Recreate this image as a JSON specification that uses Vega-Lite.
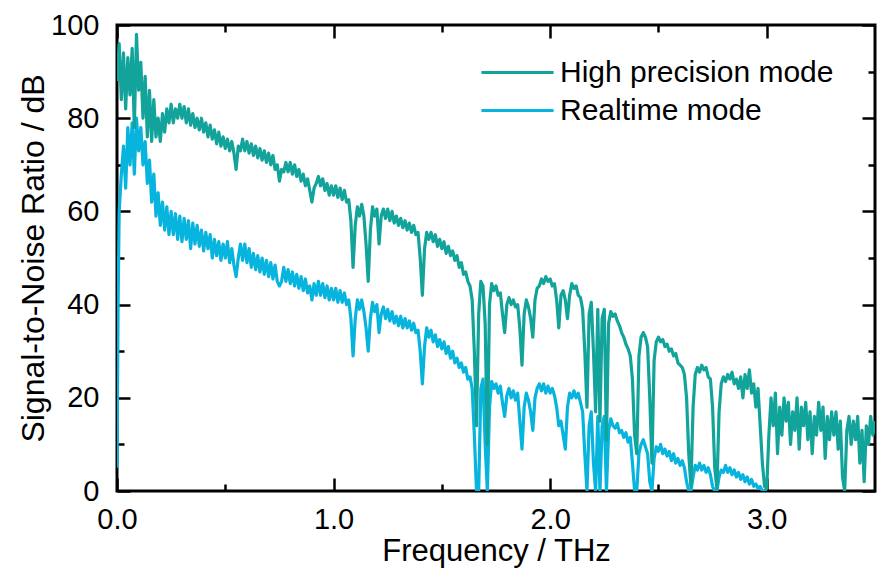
{
  "$schema": "https://vega.github.io/schema/vega-lite/v6.json",
  "width": 758,
  "height": 466,
  "autosize": {"type": "none"},
  "padding": {"left": 117, "top": 25, "right": 9, "bottom": 83},
  "background": "white",
  "config": {
    "view": {"stroke": "black", "strokeWidth": 3},
    "axis": {
      "domain": false, "grid": false, "tickColor": "black", "tickWidth": 2.5,
      "labelColor": "black", "labelFont": "Liberation Sans", "labelFontSize": 29,
      "titleFont": "Liberation Sans", "titleFontSize": 31, "titleFontWeight": "normal", "titleColor": "black"
    },
    "legend": {"labelFont": "Liberation Sans", "labelFontSize": 30, "labelColor": "black", "labelLimit": 0}
  },
  "datasets": {
    "hp": [
{"f":0,"v":88},{"f":0.01,"v":96},{"f":0.02,"v":84},{"f":0.03,"v":94},{"f":0.04,"v":82},{"f":0.05,"v":93},{"f":0.06,"v":85},{"f":0.07,"v":95},{"f":0.08,"v":78},{"f":0.09,"v":98},
{"f":0.1,"v":86},{"f":0.11,"v":92},{"f":0.12,"v":80},{"f":0.13,"v":89},{"f":0.14,"v":76},{"f":0.15,"v":86},{"f":0.16,"v":75},{"f":0.17,"v":84},{"f":0.18,"v":76},{"f":0.19,"v":80},
{"f":0.2,"v":75},{"f":0.21,"v":81},{"f":0.22,"v":77},{"f":0.23,"v":82},{"f":0.24,"v":79},{"f":0.25,"v":83},{"f":0.26,"v":79},{"f":0.27,"v":82},{"f":0.28,"v":80},{"f":0.29,"v":83},
{"f":0.3,"v":80},{"f":0.31,"v":82.5},{"f":0.32,"v":79},{"f":0.33,"v":82},{"f":0.34,"v":78.5},{"f":0.35,"v":81},{"f":0.36,"v":78},{"f":0.37,"v":80},{"f":0.38,"v":77.5},{"f":0.39,"v":80},
{"f":0.4,"v":77},{"f":0.41,"v":79},{"f":0.42,"v":76},{"f":0.43,"v":78.5},{"f":0.44,"v":75.5},{"f":0.45,"v":77.5},{"f":0.46,"v":74.5},{"f":0.47,"v":77},{"f":0.48,"v":74},{"f":0.49,"v":76},
{"f":0.5,"v":73.5},{"f":0.51,"v":75.5},{"f":0.52,"v":73},{"f":0.53,"v":75},{"f":0.54,"v":72.5},{"f":0.55,"v":69},{"f":0.56,"v":74},{"f":0.57,"v":73},{"f":0.58,"v":75.5},{"f":0.59,"v":73},
{"f":0.6,"v":75},{"f":0.61,"v":72.5},{"f":0.62,"v":74.5},{"f":0.63,"v":72},{"f":0.64,"v":74},{"f":0.65,"v":71.5},{"f":0.66,"v":73.5},{"f":0.67,"v":71},{"f":0.68,"v":73},{"f":0.69,"v":70.5},
{"f":0.7,"v":72.5},{"f":0.71,"v":70},{"f":0.72,"v":72},{"f":0.73,"v":69},{"f":0.74,"v":70},{"f":0.75,"v":66.5},{"f":0.76,"v":69},{"f":0.77,"v":68.5},{"f":0.78,"v":70.5},{"f":0.79,"v":68.5},
{"f":0.8,"v":70.5},{"f":0.81,"v":68},{"f":0.82,"v":70},{"f":0.83,"v":67.5},{"f":0.84,"v":69},{"f":0.85,"v":66.5},{"f":0.86,"v":68},{"f":0.87,"v":65.5},{"f":0.88,"v":67},{"f":0.89,"v":64.5},
{"f":0.9,"v":62},{"f":0.91,"v":65},{"f":0.92,"v":66},{"f":0.93,"v":67.5},{"f":0.94,"v":65.5},{"f":0.95,"v":67},{"f":0.96,"v":64.5},{"f":0.97,"v":66},{"f":0.98,"v":63.5},{"f":0.99,"v":65.5},
{"f":1,"v":63.5},{"f":1.01,"v":65.5},{"f":1.02,"v":63},{"f":1.03,"v":65},{"f":1.04,"v":62.5},{"f":1.05,"v":64.5},{"f":1.06,"v":62},{"f":1.07,"v":62.5},{"f":1.08,"v":58},{"f":1.09,"v":48},
{"f":1.1,"v":57},{"f":1.11,"v":61},{"f":1.12,"v":59},{"f":1.13,"v":61.5},{"f":1.14,"v":59},{"f":1.15,"v":53},{"f":1.16,"v":45},{"f":1.17,"v":56},{"f":1.18,"v":61},{"f":1.19,"v":59},
{"f":1.2,"v":60.5},{"f":1.21,"v":53},{"f":1.22,"v":59},{"f":1.23,"v":60.5},{"f":1.24,"v":58.5},{"f":1.25,"v":60.5},{"f":1.26,"v":58},{"f":1.27,"v":60},{"f":1.28,"v":57.5},{"f":1.29,"v":59},
{"f":1.3,"v":57},{"f":1.31,"v":58.5},{"f":1.32,"v":56.5},{"f":1.33,"v":58},{"f":1.34,"v":56},{"f":1.35,"v":57.5},{"f":1.36,"v":55.5},{"f":1.37,"v":57},{"f":1.38,"v":55},{"f":1.39,"v":55.5},
{"f":1.4,"v":50},{"f":1.41,"v":42},{"f":1.42,"v":52},{"f":1.43,"v":55.5},{"f":1.44,"v":54},{"f":1.45,"v":55.5},{"f":1.46,"v":53.5},{"f":1.47,"v":55},{"f":1.48,"v":52.5},{"f":1.49,"v":54},
{"f":1.5,"v":52},{"f":1.51,"v":53.5},{"f":1.52,"v":51},{"f":1.53,"v":52.5},{"f":1.54,"v":50.5},{"f":1.55,"v":51.5},{"f":1.56,"v":49.5},{"f":1.57,"v":50.5},{"f":1.58,"v":48},{"f":1.59,"v":49},
{"f":1.6,"v":46.5},{"f":1.61,"v":47},{"f":1.62,"v":45},{"f":1.63,"v":44},{"f":1.64,"v":41},{"f":1.65,"v":30},{"f":1.66,"v":14},{"f":1.67,"v":38},{"f":1.68,"v":45},{"f":1.69,"v":44},
{"f":1.7,"v":36},{"f":1.71,"v":10},{"f":1.72,"v":40},{"f":1.73,"v":44.5},{"f":1.74,"v":43},{"f":1.75,"v":44},{"f":1.76,"v":42},{"f":1.77,"v":42.5},{"f":1.78,"v":38},{"f":1.79,"v":34},
{"f":1.8,"v":40},{"f":1.81,"v":41.5},{"f":1.82,"v":40},{"f":1.83,"v":41},{"f":1.84,"v":39.5},{"f":1.85,"v":40},{"f":1.86,"v":35},{"f":1.87,"v":27},{"f":1.88,"v":38},{"f":1.89,"v":41},
{"f":1.9,"v":39.5},{"f":1.91,"v":37},{"f":1.92,"v":33},{"f":1.93,"v":41},{"f":1.94,"v":43.5},{"f":1.95,"v":44},{"f":1.96,"v":45.5},{"f":1.97,"v":44.5},{"f":1.98,"v":46},{"f":1.99,"v":45},
{"f":2,"v":45.5},{"f":2.01,"v":44},{"f":2.02,"v":44.5},{"f":2.03,"v":41},{"f":2.04,"v":35},{"f":2.05,"v":42},{"f":2.06,"v":43},{"f":2.07,"v":41},{"f":2.08,"v":37},{"f":2.09,"v":42},
{"f":2.1,"v":44.5},{"f":2.11,"v":43.5},{"f":2.12,"v":44},{"f":2.13,"v":42},{"f":2.14,"v":41.5},{"f":2.15,"v":39},{"f":2.16,"v":30},{"f":2.17,"v":18},{"f":2.18,"v":38},{"f":2.19,"v":40.5},
{"f":2.2,"v":30},{"f":2.21,"v":17},{"f":2.22,"v":39},{"f":2.23,"v":15},{"f":2.24,"v":37},{"f":2.25,"v":39},{"f":2.26,"v":11},{"f":2.27,"v":36},{"f":2.28,"v":38.5},{"f":2.29,"v":37.5},
{"f":2.3,"v":38},{"f":2.31,"v":36.5},{"f":2.32,"v":35.5},{"f":2.33,"v":34},{"f":2.34,"v":33},{"f":2.35,"v":31.5},{"f":2.36,"v":30.5},{"f":2.37,"v":29},{"f":2.38,"v":24},{"f":2.39,"v":12},
{"f":2.4,"v":8},{"f":2.41,"v":29},{"f":2.42,"v":33},{"f":2.43,"v":34},{"f":2.44,"v":33},{"f":2.45,"v":31},{"f":2.46,"v":20},{"f":2.47,"v":6},{"f":2.48,"v":28},{"f":2.49,"v":32},
{"f":2.5,"v":33},{"f":2.51,"v":32},{"f":2.52,"v":32.5},{"f":2.53,"v":31},{"f":2.54,"v":31.5},{"f":2.55,"v":30},{"f":2.56,"v":30.5},{"f":2.57,"v":29},{"f":2.58,"v":29.5},{"f":2.59,"v":27.5},
{"f":2.6,"v":27},{"f":2.61,"v":26.5},{"f":2.62,"v":25},{"f":2.63,"v":20},{"f":2.64,"v":8},{"f":2.65,"v":1},{"f":2.66,"v":18},{"f":2.67,"v":25},{"f":2.68,"v":26.5},{"f":2.69,"v":25.5},
{"f":2.7,"v":27},{"f":2.71,"v":26},{"f":2.72,"v":26.5},{"f":2.73,"v":24.5},{"f":2.74,"v":24},{"f":2.75,"v":18},{"f":2.76,"v":5},{"f":2.77,"v":0.5},{"f":2.78,"v":17},{"f":2.79,"v":23},
{"f":2.8,"v":24.5},{"f":2.81,"v":23.5},{"f":2.82,"v":25},{"f":2.83,"v":24},{"f":2.84,"v":25.5},{"f":2.85,"v":23},{"f":2.86,"v":24},{"f":2.87,"v":22},{"f":2.88,"v":24.5},{"f":2.89,"v":20},
{"f":2.9,"v":25},{"f":2.91,"v":22},{"f":2.92,"v":26},{"f":2.93,"v":21},{"f":2.94,"v":23},{"f":2.95,"v":18},{"f":2.96,"v":22},{"f":2.97,"v":14},{"f":2.98,"v":6},{"f":2.99,"v":1},
{"f":3,"v":0.5},{"f":3.01,"v":12},{"f":3.02,"v":20},{"f":3.03,"v":14},{"f":3.04,"v":21},{"f":3.05,"v":8},{"f":3.06,"v":18},{"f":3.07,"v":12},{"f":3.08,"v":20},{"f":3.09,"v":15},
{"f":3.1,"v":19},{"f":3.11,"v":10},{"f":3.12,"v":17},{"f":3.13,"v":13},{"f":3.14,"v":20},{"f":3.15,"v":9},{"f":3.16,"v":18},{"f":3.17,"v":14},{"f":3.18,"v":19},{"f":3.19,"v":11},
{"f":3.2,"v":17},{"f":3.21,"v":8},{"f":3.22,"v":16},{"f":3.23,"v":12},{"f":3.24,"v":19},{"f":3.25,"v":13},{"f":3.26,"v":18},{"f":3.27,"v":7},{"f":3.28,"v":16},{"f":3.29,"v":11},
{"f":3.3,"v":17},{"f":3.31,"v":12},{"f":3.32,"v":17},{"f":3.33,"v":9},{"f":3.34,"v":15},{"f":3.35,"v":3},{"f":3.36,"v":0},{"f":3.37,"v":13},{"f":3.38,"v":16},{"f":3.39,"v":10},
{"f":3.4,"v":15},{"f":3.41,"v":11},{"f":3.42,"v":16},{"f":3.43,"v":6},{"f":3.44,"v":13},{"f":3.45,"v":2},{"f":3.46,"v":14},{"f":3.47,"v":10},{"f":3.48,"v":16},{"f":3.49,"v":12},{"f":3.5,"v":15}
    ],
    "rt": [
{"f":0,"v":5},{"f":0.005,"v":40},{"f":0.01,"v":60},{"f":0.02,"v":68},{"f":0.03,"v":74},{"f":0.04,"v":65},{"f":0.05,"v":78},{"f":0.06,"v":70},{"f":0.07,"v":79},{"f":0.08,"v":68},{"f":0.09,"v":80},
{"f":0.1,"v":73},{"f":0.11,"v":78},{"f":0.12,"v":70},{"f":0.13,"v":75},{"f":0.14,"v":66},{"f":0.15,"v":71},{"f":0.16,"v":62},{"f":0.17,"v":68},{"f":0.18,"v":59},{"f":0.19,"v":64},
{"f":0.2,"v":57},{"f":0.21,"v":62},{"f":0.22,"v":56},{"f":0.23,"v":61},{"f":0.24,"v":55},{"f":0.25,"v":60},{"f":0.26,"v":55},{"f":0.27,"v":59.5},{"f":0.28,"v":54},{"f":0.29,"v":59},
{"f":0.3,"v":53.5},{"f":0.31,"v":58.5},{"f":0.32,"v":54},{"f":0.33,"v":58},{"f":0.34,"v":52},{"f":0.35,"v":57.5},{"f":0.36,"v":53},{"f":0.37,"v":57},{"f":0.38,"v":52.5},{"f":0.39,"v":56},
{"f":0.4,"v":51.5},{"f":0.41,"v":55.5},{"f":0.42,"v":52},{"f":0.43,"v":55},{"f":0.44,"v":50},{"f":0.45,"v":54},{"f":0.46,"v":50.5},{"f":0.47,"v":53.5},{"f":0.48,"v":49.5},{"f":0.49,"v":53},
{"f":0.5,"v":50},{"f":0.51,"v":53.5},{"f":0.52,"v":49},{"f":0.53,"v":52},{"f":0.54,"v":48.5},{"f":0.55,"v":46},{"f":0.56,"v":50},{"f":0.57,"v":53},{"f":0.58,"v":49.5},{"f":0.59,"v":53},
{"f":0.6,"v":49},{"f":0.61,"v":52},{"f":0.62,"v":48},{"f":0.63,"v":51},{"f":0.64,"v":47.5},{"f":0.65,"v":50.5},{"f":0.66,"v":47},{"f":0.67,"v":50},{"f":0.68,"v":46.5},{"f":0.69,"v":49.5},
{"f":0.7,"v":46},{"f":0.71,"v":49},{"f":0.72,"v":45.5},{"f":0.73,"v":48.5},{"f":0.74,"v":45},{"f":0.75,"v":44},{"f":0.76,"v":45},{"f":0.77,"v":48},{"f":0.78,"v":45},{"f":0.79,"v":47.5},
{"f":0.8,"v":44.5},{"f":0.81,"v":47},{"f":0.82,"v":44},{"f":0.83,"v":46.5},{"f":0.84,"v":43.5},{"f":0.85,"v":46},{"f":0.86,"v":43},{"f":0.87,"v":45.5},{"f":0.88,"v":42.5},{"f":0.89,"v":44},
{"f":0.9,"v":41},{"f":0.91,"v":44.5},{"f":0.92,"v":42},{"f":0.93,"v":45},{"f":0.94,"v":42},{"f":0.95,"v":44.5},{"f":0.96,"v":41.5},{"f":0.97,"v":44},{"f":0.98,"v":41},{"f":0.99,"v":43.5},
{"f":1,"v":41},{"f":1.01,"v":43.5},{"f":1.02,"v":40.5},{"f":1.03,"v":43},{"f":1.04,"v":40.5},{"f":1.05,"v":42.5},{"f":1.06,"v":40},{"f":1.07,"v":41},{"f":1.08,"v":37},{"f":1.09,"v":29},
{"f":1.1,"v":37},{"f":1.11,"v":41},{"f":1.12,"v":39},{"f":1.13,"v":41},{"f":1.14,"v":38.5},{"f":1.15,"v":35},{"f":1.16,"v":30},{"f":1.17,"v":37},{"f":1.18,"v":40.5},{"f":1.19,"v":38.5},
{"f":1.2,"v":40},{"f":1.21,"v":34},{"f":1.22,"v":38},{"f":1.23,"v":39.5},{"f":1.24,"v":37},{"f":1.25,"v":39},{"f":1.26,"v":36.5},{"f":1.27,"v":38.5},{"f":1.28,"v":36},{"f":1.29,"v":37.5},
{"f":1.3,"v":35.5},{"f":1.31,"v":37.5},{"f":1.32,"v":35},{"f":1.33,"v":37},{"f":1.34,"v":35},{"f":1.35,"v":36.5},{"f":1.36,"v":34.5},{"f":1.37,"v":36},{"f":1.38,"v":34},{"f":1.39,"v":34.5},
{"f":1.4,"v":30},{"f":1.41,"v":23},{"f":1.42,"v":31},{"f":1.43,"v":35},{"f":1.44,"v":33},{"f":1.45,"v":34.5},{"f":1.46,"v":32},{"f":1.47,"v":33.5},{"f":1.48,"v":31},{"f":1.49,"v":32.5},
{"f":1.5,"v":30.5},{"f":1.51,"v":32},{"f":1.52,"v":29.5},{"f":1.53,"v":31},{"f":1.54,"v":28.5},{"f":1.55,"v":30},{"f":1.56,"v":27.5},{"f":1.57,"v":28.5},{"f":1.58,"v":26.5},{"f":1.59,"v":27.5},
{"f":1.6,"v":25.5},{"f":1.61,"v":26.5},{"f":1.62,"v":24},{"f":1.63,"v":24.5},{"f":1.64,"v":22},{"f":1.65,"v":12},{"f":1.66,"v":0},{"f":1.67,"v":0},{"f":1.68,"v":22},{"f":1.69,"v":24},
{"f":1.7,"v":10},{"f":1.71,"v":0},{"f":1.72,"v":18},{"f":1.73,"v":23.5},{"f":1.74,"v":22},{"f":1.75,"v":23},{"f":1.76,"v":21},{"f":1.77,"v":22.5},{"f":1.78,"v":19},{"f":1.79,"v":16},
{"f":1.8,"v":20.5},{"f":1.81,"v":22},{"f":1.82,"v":20},{"f":1.83,"v":21.5},{"f":1.84,"v":19.5},{"f":1.85,"v":21},{"f":1.86,"v":15},{"f":1.87,"v":9},{"f":1.88,"v":18},{"f":1.89,"v":21},
{"f":1.9,"v":19.5},{"f":1.91,"v":17},{"f":1.92,"v":13},{"f":1.93,"v":20},{"f":1.94,"v":22},{"f":1.95,"v":23},{"f":1.96,"v":21.5},{"f":1.97,"v":23},{"f":1.98,"v":21},{"f":1.99,"v":22.5},
{"f":2,"v":21},{"f":2.01,"v":22},{"f":2.02,"v":20.5},{"f":2.03,"v":18},{"f":2.04,"v":14},{"f":2.05,"v":15},{"f":2.06,"v":12},{"f":2.07,"v":9},{"f":2.08,"v":18},{"f":2.09,"v":21},
{"f":2.1,"v":20},{"f":2.11,"v":21.5},{"f":2.12,"v":20},{"f":2.13,"v":21},{"f":2.14,"v":19},{"f":2.15,"v":17},{"f":2.16,"v":8},{"f":2.17,"v":0},{"f":2.18,"v":14},{"f":2.19,"v":17},
{"f":2.2,"v":6},{"f":2.21,"v":0},{"f":2.22,"v":16},{"f":2.23,"v":0},{"f":2.24,"v":14},{"f":2.25,"v":16},{"f":2.26,"v":0},{"f":2.27,"v":13},{"f":2.28,"v":15.5},{"f":2.29,"v":14},
{"f":2.3,"v":13.5},{"f":2.31,"v":14.5},{"f":2.32,"v":12.5},{"f":2.33,"v":13},{"f":2.34,"v":11.5},{"f":2.35,"v":12.5},{"f":2.36,"v":10.5},{"f":2.37,"v":11.5},{"f":2.38,"v":6},{"f":2.39,"v":0},
{"f":2.4,"v":0},{"f":2.41,"v":8},{"f":2.42,"v":10},{"f":2.43,"v":11},{"f":2.44,"v":9.5},{"f":2.45,"v":8},{"f":2.46,"v":2},{"f":2.47,"v":0},{"f":2.48,"v":7},{"f":2.49,"v":9.5},
{"f":2.5,"v":8.5},{"f":2.51,"v":10},{"f":2.52,"v":8},{"f":2.53,"v":9},{"f":2.54,"v":7.5},{"f":2.55,"v":8.5},{"f":2.56,"v":6.5},{"f":2.57,"v":8},{"f":2.58,"v":6},{"f":2.59,"v":7},
{"f":2.6,"v":5.5},{"f":2.61,"v":6.5},{"f":2.62,"v":5},{"f":2.63,"v":2},{"f":2.64,"v":0},{"f":2.65,"v":0},{"f":2.66,"v":3},{"f":2.67,"v":5.5},{"f":2.68,"v":4.5},{"f":2.69,"v":6},
{"f":2.7,"v":4.5},{"f":2.71,"v":5.5},{"f":2.72,"v":4},{"f":2.73,"v":5},{"f":2.74,"v":3.5},{"f":2.75,"v":1},{"f":2.76,"v":0},{"f":2.77,"v":0},{"f":2.78,"v":3},{"f":2.79,"v":4.5},
{"f":2.8,"v":4},{"f":2.81,"v":5.5},{"f":2.82,"v":4},{"f":2.83,"v":5},{"f":2.84,"v":3.5},{"f":2.85,"v":4.5},{"f":2.86,"v":3},{"f":2.87,"v":4},{"f":2.88,"v":2.5},{"f":2.89,"v":3.5},
{"f":2.9,"v":2},{"f":2.91,"v":3},{"f":2.92,"v":1.5},{"f":2.93,"v":2.5},{"f":2.94,"v":1},{"f":2.95,"v":1.5},{"f":2.96,"v":0.5},{"f":2.97,"v":1},{"f":2.98,"v":0},{"f":3,"v":0}
    ]
  },
  "resolve": {"scale": {"x": "shared", "y": "shared"}, "axis": {"x": "independent", "y": "independent"}},
  "layer": [
    {
      "data": {"name": "rt"},
      "mark": {"type": "line", "strokeWidth": 3.2, "clip": true, "strokeJoin": "round"},
      "encoding": {
        "x": {"field": "f", "type": "quantitative", "scale": {"domain": [0, 3.5], "nice": false, "zero": false},
              "axis": {"orient": "bottom", "values": [0, 1, 2, 3], "format": ".1f", "tickSize": -13, "labelPadding": 27, "title": "Frequency / THz", "titlePadding": 2, "labelFlush": false}},
        "y": {"field": "v", "type": "quantitative", "scale": {"domain": [0, 100], "nice": false, "zero": false},
              "axis": {"orient": "left", "values": [0, 20, 40, 60, 80, 100], "tickSize": -13, "labelPadding": 31, "title": "Signal-to-Noise Ratio / dB", "titleFontSize": 32, "titlePadding": 0}},
        "color": {"datum": "Realtime mode", "type": "nominal",
                  "scale": {"domain": ["High precision mode", "Realtime mode"], "range": ["#12a39b", "#06b4dd"]},
                  "legend": {"title": null, "orient": "none", "legendX": 380, "legendY": 27, "padding": 0, "rowPadding": 2,
                             "symbolType": "M-1.9,0H1.9", "symbolSize": 1444, "symbolStrokeWidth": 3, "labelOffset": 22}}
      }
    },
    {
      "data": {"name": "hp"},
      "mark": {"type": "line", "strokeWidth": 3.2, "clip": true, "strokeJoin": "round"},
      "encoding": {
        "x": {"field": "f", "type": "quantitative", "scale": {"domain": [0, 3.5], "nice": false, "zero": false},
              "axis": {"orient": "bottom", "values": [0.5, 1.5, 2.5], "labels": false, "tickSize": -7, "title": null}},
        "y": {"field": "v", "type": "quantitative", "scale": {"domain": [0, 100], "nice": false, "zero": false},
              "axis": {"orient": "left", "values": [10, 30, 50, 70, 90], "labels": false, "tickSize": -7, "title": null}},
        "color": {"datum": "High precision mode", "type": "nominal"}
      }
    },
    {
      "data": {"name": "hp"},
      "mark": {"type": "line", "strokeOpacity": 0},
      "encoding": {
        "x": {"field": "f", "type": "quantitative", "scale": {"domain": [0, 3.5], "nice": false, "zero": false},
              "axis": {"orient": "top", "values": [0, 1, 2, 3], "labels": false, "tickSize": -13, "title": null}},
        "y": {"field": "v", "type": "quantitative", "scale": {"domain": [0, 100], "nice": false, "zero": false},
              "axis": {"orient": "right", "values": [0, 20, 40, 60, 80, 100], "labels": false, "tickSize": -13, "title": null}}
      }
    },
    {
      "data": {"name": "hp"},
      "mark": {"type": "line", "strokeOpacity": 0},
      "encoding": {
        "x": {"field": "f", "type": "quantitative", "scale": {"domain": [0, 3.5], "nice": false, "zero": false},
              "axis": {"orient": "top", "values": [0.5, 1.5, 2.5], "labels": false, "tickSize": -7, "title": null}},
        "y": {"field": "v", "type": "quantitative", "scale": {"domain": [0, 100], "nice": false, "zero": false},
              "axis": {"orient": "right", "values": [10, 30, 50, 70, 90], "labels": false, "tickSize": -7, "title": null}}
      }
    }
  ]
}
